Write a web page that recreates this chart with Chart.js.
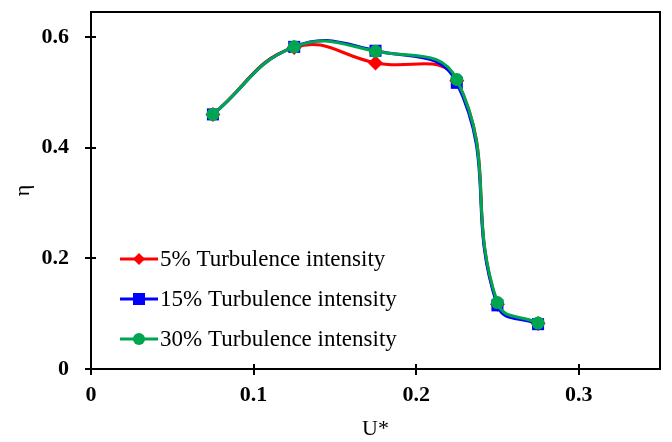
<!DOCTYPE html>
<html>
<head>
<meta charset="utf-8">
<script src="https://cdn.jsdelivr.net/npm/chart.js@4.4.0/dist/chart.umd.min.js"></script>
<style>
  body { margin: 0; background: #fff; }
  #wrap { width: 672px; height: 442px; }
</style>
</head>
<body>
<div id="wrap"><canvas id="myChart"></canvas></div>
<script>
/*DATA*/
const uStar = [0.075, 0.125, 0.175, 0.225, 0.25, 0.275]
const eta5 = [0.46, 0.581, 0.553, 0.521, 0.117, 0.082]
const eta15 = [0.46, 0.582, 0.575, 0.517, 0.115, 0.081]
const eta30 = [0.46, 0.582, 0.574, 0.523, 0.12, 0.083]
const seriesNames = ['5% Turbulence intensity', '15% Turbulence intensity', '30% Turbulence intensity']
const xTicks = [0, 0.1, 0.2, 0.3]
const yTicks = [0, 0.2, 0.4, 0.6]

const serif = '"Liberation Serif", "Times New Roman", serif'

function points(ys){
    return uStar.map((x, i) => ({x: x, y: ys[i]}))
}

/*BOX, TICKS AND LEGEND*/
const boxAndLegend = {
    id: 'boxAndLegend',
    afterDatasetsDraw(chart){
        const c = chart.ctx, a = chart.chartArea
        const sx = chart.scales.x, sy = chart.scales.y
        c.save()
        c.strokeStyle = '#000'
        c.lineWidth = 2
        c.strokeRect(a.left, a.top, a.right - a.left, a.bottom - a.top)

        // ticks cross the axis lines
        c.beginPath()
        xTicks.forEach(v => {
            const px = Math.round(sx.getPixelForValue(v))
            c.moveTo(px, a.bottom - 5); c.lineTo(px, a.bottom + 6)
        })
        yTicks.forEach(v => {
            const py = Math.round(sy.getPixelForValue(v))
            c.moveTo(a.left - 6, py); c.lineTo(a.left + 5, py)
        })
        c.stroke()

        // legend rows in the lower left of the plot
        chart.data.datasets.forEach(ds => {
            const idx = ds.legendIndex
            const y = a.top + 247 + idx * 40
            const x0 = a.left + 29
            c.strokeStyle = ds.borderColor
            c.lineWidth = 3
            c.beginPath()
            c.moveTo(x0, y)
            c.lineTo(x0 + 38, y)
            c.stroke()
            c.fillStyle = ds.backgroundColor
            const mx = x0 + 19
            if(ds.pointStyle === 'rectRot'){
                c.beginPath()
                c.moveTo(mx, y - 6); c.lineTo(mx + 6, y); c.lineTo(mx, y + 6); c.lineTo(mx - 6, y)
                c.closePath(); c.fill()
            }else if(ds.pointStyle === 'rect'){
                c.fillRect(mx - 6, y - 6, 12, 12)
            }else{
                c.beginPath(); c.arc(mx, y, 6, 0, Math.PI * 2); c.fill()
            }
            c.fillStyle = '#000'
            c.font = '23px ' + serif
            c.textBaseline = 'middle'
            c.fillText(ds.label, x0 + 40, y + 1)
        })
        c.restore()
    }
}

/*CHART*/
var ctx = document.getElementById('myChart').getContext('2d')
var myChart = new Chart(ctx, {
    type: 'line',
    data: {
        datasets: [{
            label: seriesNames[2],
            legendIndex: 2,
            data: points(eta30),
            borderColor: '#00a550',
            backgroundColor: '#00a550',
            pointStyle: 'circle',
            pointRadius: 6.5,
            order: 0
        }, {
            label: seriesNames[1],
            legendIndex: 1,
            data: points(eta15),
            borderColor: '#0000ff',
            backgroundColor: '#0000ff',
            pointStyle: 'rect',
            pointRadius: 8.5,
            order: 1
        }, {
            label: seriesNames[0],
            legendIndex: 0,
            data: points(eta5),
            borderColor: '#ff0000',
            backgroundColor: '#ff0000',
            pointStyle: 'rectRot',
            pointRadius: 7.5,
            order: 2
        }]
    },
    options: {
        responsive: true,
        maintainAspectRatio: false,
        animation: false,
        datasets: {
            line: {
                borderWidth: 3,
                tension: 0.45,
                pointBorderWidth: 0,
                fill: false
            }
        },
        layout: { padding: { top: 12, right: 12, left: 0, bottom: 0 } },
        plugins: {
            legend: { display: false },
            tooltip: { enabled: false }
        },
        scales: {
            x: {
                type: 'linear',
                min: 0,
                max: 0.35,
                afterBuildTicks: s => { s.ticks = xTicks.map(v => ({value: v})) },
                afterFit: s => { s.height = 73; s.paddingLeft = 0; s.paddingRight = 0 },
                grid: { display: false },
                border: { display: false },
                ticks: {
                    color: '#000',
                    padding: 5,
                    maxRotation: 0,
                    font: { family: serif, size: 22, weight: 'bold' },
                    callback: v => String(v)
                },
                title: {
                    display: true,
                    text: 'U*',
                    color: '#000',
                    font: { family: serif, size: 22 },
                    padding: { top: 0, bottom: 0 }
                }
            },
            y: {
                min: 0,
                max: 0.645,
                afterBuildTicks: s => { s.ticks = yTicks.map(v => ({value: v})) },
                afterFit: s => { s.width = 91; s.paddingTop = 0; s.paddingBottom = 0 },
                grid: { display: false },
                border: { display: false },
                ticks: {
                    color: '#000',
                    padding: 14,
                    font: { family: serif, size: 22, weight: 'bold' },
                    callback: v => String(v)
                },
                title: {
                    display: true,
                    text: 'η',
                    color: '#000',
                    font: { family: serif, size: 22 },
                    padding: { top: 10, bottom: 0 }
                }
            }
        }
    },
    plugins: [boxAndLegend]
})
</script>
</body>
</html>
